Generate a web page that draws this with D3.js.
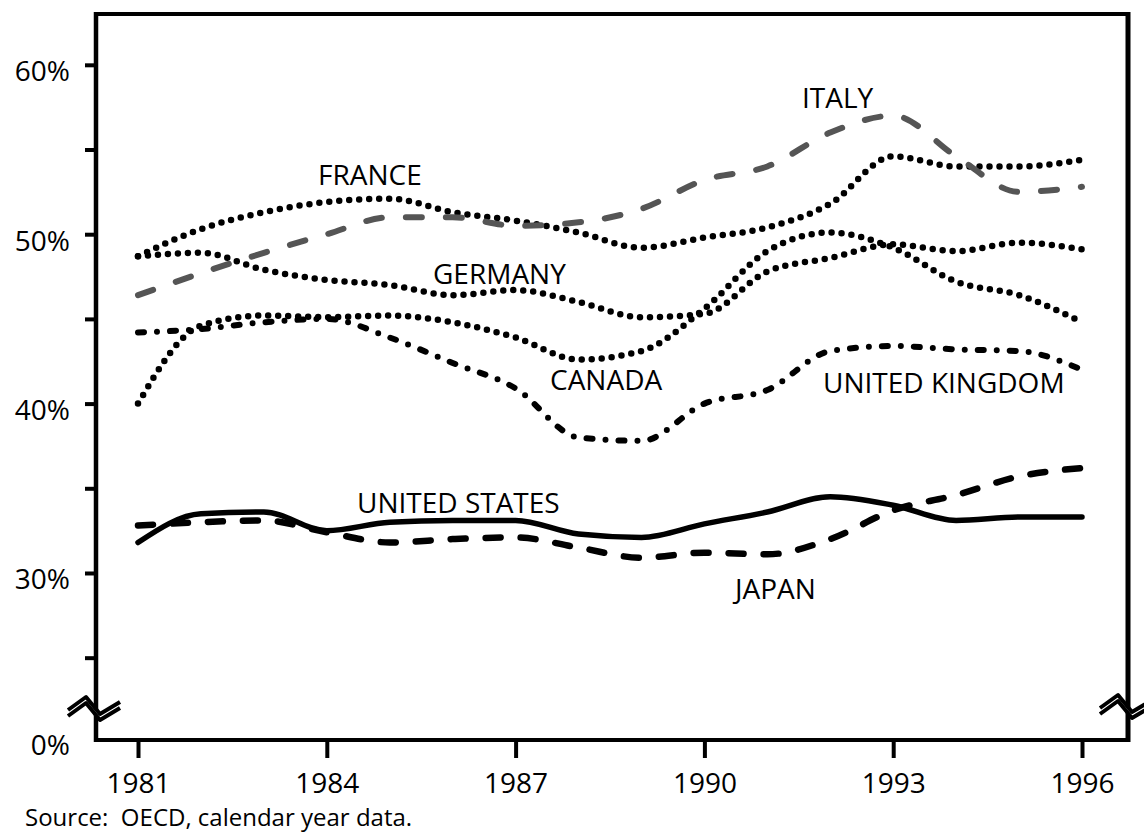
<!DOCTYPE html>
<html>
<head>
<meta charset="utf-8">
<script src="https://cdn.jsdelivr.net/npm/d3@7"></script>
<style>
  html, body { margin: 0; padding: 0; background: #fff; }
  svg { display: block; font-family: "Open Sans", sans-serif; }
</style>
</head>
<body>
<svg id="chart" width="1144" height="836"></svg>
<script>
// years on the x axis
const years = [1981, 1982, 1983, 1984, 1985, 1986, 1987, 1988, 1989, 1990, 1991, 1992, 1993, 1994, 1995, 1996];
const yearTicks = [1981, 1984, 1987, 1990, 1993, 1996];
const pctTicks = [25, 30, 35, 40, 45, 50, 55, 60];
const pctLabels = [30, 40, 50, 60];

// values, % of GDP
const france  = [48.7, 50.3, 51.3, 51.9, 52.1, 51.3, 50.8, 50.1, 49.2, 49.8, 50.4, 51.8, 54.6, 54.0, 54.0, 54.4];
const germany = [48.7, 48.9, 47.9, 47.3, 47.0, 46.4, 46.7, 46.0, 45.1, 45.3, 47.8, 48.6, 49.4, 49.0, 49.5, 49.1];
const canada  = [40.0, 44.6, 45.2, 45.1, 45.2, 44.8, 43.9, 42.6, 43.1, 45.6, 49.0, 50.1, 49.2, 47.2, 46.4, 44.8];
const italy   = [46.4, 47.7, 48.9, 50.0, 51.0, 51.0, 50.5, 50.7, 51.5, 53.2, 54.0, 56.0, 57.0, 54.6, 52.5, 52.8];
const uk      = [44.2, 44.4, 44.8, 45.0, 43.9, 42.4, 40.9, 38.0, 37.8, 40.0, 40.8, 43.1, 43.4, 43.2, 43.1, 42.0];
const us      = [31.8, 33.5, 33.6, 32.5, 33.0, 33.1, 33.1, 32.3, 32.1, 32.9, 33.6, 34.5, 34.0, 33.1, 33.3, 33.3];
const japan   = [32.8, 33.0, 33.1, 32.4, 31.8, 32.0, 32.1, 31.5, 30.9, 31.2, 31.1, 32.0, 33.7, 34.6, 35.7, 36.2];

const svg = d3.select("#chart");

// plot frame
const frame = {left: 96, right: 1128, top: 14, bottom: 740};

// x scale: years, y scale: percent (axis is broken below 25%)
const xScale = d3.scaleLinear()
  .domain([1981, 1996])
  .range([138, 1082]);
const yScale = d3.scaleLinear()
  .domain([20.14, 63.0])
  .range([frame.bottom, frame.top]);

// series and their line styles
const series = [
  {name: "FRANCE", values: france, stroke: "#000", width: 6.5, dash: "0 10", lx: 318, ly: 185},
  {name: "GERMANY", values: germany, stroke: "#000", width: 6.5, dash: "0 10", lx: 433, ly: 284},
  {name: "CANADA", values: canada, stroke: "#000", width: 6.5, dash: "0 10", lx: 550, ly: 390},
  {name: "ITALY", values: italy, stroke: "#555", width: 6, dash: "16 24", lx: 802, ly: 108},
  {name: "UNITED KINGDOM", values: uk, stroke: "#000", width: 6, dash: "6 13 0 13", lx: 823, ly: 393},
  {name: "UNITED STATES", values: us, stroke: "#000", width: 5.5, dash: null, lx: 357, ly: 513},
  {name: "JAPAN", values: japan, stroke: "#000", width: 6.5, dash: "15 20", lx: 735, ly: 599}
];

// y axis ticks and labels
const yAxis = svg.append("g")
  .attr("transform", "translate(" + frame.left + ",0)")
  .call(d3.axisLeft(yScale)
    .tickValues(pctTicks)
    .tickSize(11)
    .tickFormat(function(d) { return pctLabels.includes(d) ? d + "%" : ""; }));
yAxis.attr("font-family", null).attr("font-size", null);
yAxis.select(".domain").remove();
yAxis.selectAll("line").attr("stroke", "#000").attr("stroke-width", 4);
yAxis.selectAll("text")
  .attr("x", -26)
  .attr("dy", 16)
  .attr("fill", "#000")
  .style("font-size", "28px");

// bottom of the broken axis is labelled 0%
svg.append("text")
  .attr("x", 70)
  .attr("y", yScale(20.14) + 15)
  .attr("text-anchor", "end")
  .style("font-size", "28px")
  .text("0%");

// x axis ticks and labels
const xAxis = svg.append("g")
  .attr("transform", "translate(0," + frame.bottom + ")")
  .call(d3.axisBottom(xScale)
    .tickValues(yearTicks)
    .tickSize(18)
    .tickFormat(d3.format("d")));
xAxis.attr("font-family", null).attr("font-size", null);
xAxis.select(".domain").remove();
xAxis.selectAll("line").attr("stroke", "#000").attr("stroke-width", 4);
xAxis.selectAll("text")
  .attr("y", 53)
  .attr("dy", 0)
  .attr("fill", "#000")
  .style("font-size", "28px");

// frame lines
svg.append("line")
  .attr("x1", frame.left).attr("x2", frame.right)
  .attr("y1", frame.top).attr("y2", frame.top)
  .attr("stroke", "#000").attr("stroke-width", 4);
svg.append("line")
  .attr("x1", frame.left).attr("x2", frame.right)
  .attr("y1", frame.bottom).attr("y2", frame.bottom)
  .attr("stroke", "#000").attr("stroke-width", 4);
svg.append("line")
  .attr("x1", frame.left).attr("x2", frame.left)
  .attr("y1", frame.top - 2).attr("y2", frame.bottom + 2)
  .attr("stroke", "#000").attr("stroke-width", 4.5);
svg.append("line")
  .attr("x1", frame.right).attr("x2", frame.right)
  .attr("y1", frame.top - 2).attr("y2", frame.bottom + 2)
  .attr("stroke", "#000").attr("stroke-width", 5);

// axis break marks
function drawBreak(cx, cy) {
  const zig = [[-28, 3], [-10, -10], [4, 7], [24, -5]];
  const g = svg.append("g").attr("transform", "translate(" + cx + "," + cy + ")");
  const gap = zig.map(p => [p[0], p[1] + 1]).concat(zig.slice().reverse().map(p => [p[0], p[1] + 5]));
  g.append("path")
    .attr("d", "M" + gap.join("L") + "Z")
    .attr("fill", "#fff");
  [0, 6].forEach(function(off) {
    g.append("path")
      .attr("d", d3.line()(zig.map(p => [p[0], p[1] + off])))
      .attr("fill", "none")
      .attr("stroke", "#000")
      .attr("stroke-width", 4)
      .attr("stroke-linejoin", "round");
  });
}
drawBreak(frame.left, 707);
drawBreak(frame.right, 705);

// lines
const line = d3.line()
  .x(function(d, i) { return xScale(years[i]); })
  .y(function(d) { return yScale(d); })
  .curve(d3.curveMonotoneX);

series.forEach(function(s) {
  svg.append("path")
    .attr("d", line(s.values))
    .attr("fill", "none")
    .attr("stroke", s.stroke)
    .attr("stroke-width", s.width)
    .attr("stroke-linecap", "round")
    .attr("stroke-linejoin", "round")
    .attr("stroke-dasharray", s.dash);
});

// series labels
svg.selectAll(".series-label")
  .data(series)
  .enter().append("text")
  .attr("class", "series-label")
  .attr("x", function(d) { return d.lx; })
  .attr("y", function(d) { return d.ly; })
  .style("font-size", "28px")
  .text(function(d) { return d.name; });

// source note
svg.append("text")
  .attr("x", 25)
  .attr("y", 826)
  .style("font-size", "24px")
  .style("white-space", "pre")
  .text("Source:  OECD, calendar year data.");
</script>
</body>
</html>
